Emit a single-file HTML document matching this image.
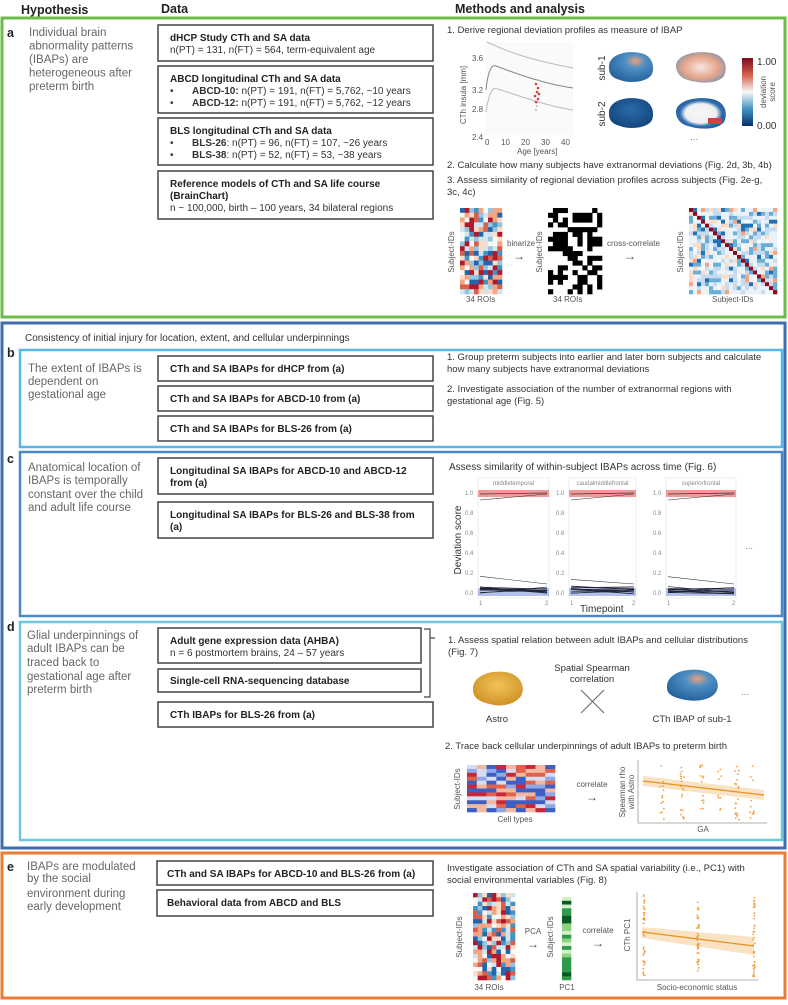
<!DOCTYPE html>
<html><head><meta charset="utf-8">
<style>
html,body{margin:0;padding:0;background:#fff;}
body{width:788px;height:1000px;overflow:hidden;font-family:"Liberation Sans",sans-serif;}
svg text{font-family:"Liberation Sans",sans-serif;}
.h{font-size:11.5px;fill:#666;}
.b{font-size:10px;font-weight:bold;fill:#222;}
.n{font-size:10px;fill:#333;}
.m{font-size:9.5px;fill:#333;}
.s{font-size:8px;fill:#555;}
.ar{font-size:12px;fill:#444;}
.t{font-size:6px;fill:#888;}
.lab{font-size:12.5px;font-weight:bold;fill:#222;}
.box{fill:#fff;stroke:#444;stroke-width:1.5;}
</style></head><body>
<svg id="s" width="788" height="1000" xmlns="http://www.w3.org/2000/svg">
<defs>
<linearGradient id="cb" x1="0" y1="0" x2="0" y2="1">
<stop offset="0" stop-color="#7a0a1f"/><stop offset="0.25" stop-color="#d6604d"/><stop offset="0.5" stop-color="#f7f7f7"/><stop offset="0.75" stop-color="#4393c3"/><stop offset="1" stop-color="#08306b"/></linearGradient>
<radialGradient id="bl1" cx="0.6" cy="0.3" r="0.8"><stop offset="0" stop-color="#e9a07f"/><stop offset="0.3" stop-color="#4d8fc4"/><stop offset="1" stop-color="#1d5a96"/></radialGradient>
<radialGradient id="bl2" cx="0.5" cy="0.5" r="0.7"><stop offset="0" stop-color="#f3e7e2"/><stop offset="0.5" stop-color="#e6a58a"/><stop offset="1" stop-color="#4a8cc4"/></radialGradient>
<radialGradient id="bl3" cx="0.5" cy="0.4" r="0.8"><stop offset="0" stop-color="#2a6aa8"/><stop offset="1" stop-color="#0d3a6e"/></radialGradient>
<radialGradient id="bl4" cx="0.5" cy="0.5" r="0.7"><stop offset="0" stop-color="#f6f6f6"/><stop offset="0.45" stop-color="#f0f0f0"/><stop offset="0.6" stop-color="#2f6fb0"/><stop offset="1" stop-color="#123f78"/></radialGradient>
<radialGradient id="astro" cx="0.5" cy="0.4" r="0.7"><stop offset="0" stop-color="#f2c35a"/><stop offset="1" stop-color="#c98a1d"/></radialGradient>
</defs>

<text x="21" y="14" class="lab">Hypothesis</text>
<text x="161" y="13" class="lab">Data</text>
<text x="455" y="13" class="lab">Methods and analysis</text>

<rect x="2" y="18" width="783" height="299" fill="none" stroke="#6cbd4a" stroke-width="3"/>
<text x="7" y="37" class="lab" font-size="12">a</text>
<text class="h" x="29" y="36">Individual brain</text>
<text class="h" x="29" y="49.5">abnormality patterns</text>
<text class="h" x="29" y="63">(IBAPs) are</text>
<text class="h" x="29" y="76.5">heterogeneous after</text>
<text class="h" x="29" y="90">preterm birth</text>

<rect class="box" x="158" y="25" width="275" height="36"/>
<text class="b" x="170" y="41">dHCP Study CTh and SA data</text>
<text class="n" x="170" y="53">n(PT) = 131, n(FT) = 564, term-equivalent age</text>
<rect class="box" x="158" y="66" width="275" height="47"/>
<text class="b" x="170" y="82">ABCD longitudinal CTh and SA data</text>
<text class="n" x="170" y="94">•</text><text class="n" x="192" y="94"><tspan font-weight="bold">ABCD-10:</tspan> n(PT) = 191, n(FT) = 5,762, ~10 years</text>
<text class="n" x="170" y="106">•</text><text class="n" x="192" y="106"><tspan font-weight="bold">ABCD-12:</tspan> n(PT) = 191, n(FT) = 5,762, ~12 years</text>
<rect class="box" x="158" y="118" width="275" height="47"/>
<text class="b" x="170" y="134">BLS longitudinal CTh and SA data</text>
<text class="n" x="170" y="146">•</text><text class="n" x="192" y="146"><tspan font-weight="bold">BLS-26</tspan>: n(PT) = 96, n(FT) = 107, ~26 years</text>
<text class="n" x="170" y="158">•</text><text class="n" x="192" y="158"><tspan font-weight="bold">BLS-38</tspan>: n(PT) = 52, n(FT) = 53, ~38 years</text>
<rect class="box" x="158" y="171" width="275" height="48"/>
<text class="b" x="170" y="187">Reference models of CTh and SA life course</text>
<text class="b" x="170" y="199">(BrainChart)</text>
<text class="n" x="170" y="211">n ~ 100,000, birth – 100 years, 34 bilateral regions</text>

<text class="m" x="447" y="33">1. Derive regional deviation profiles as measure of IBAP</text>
<rect x="485" y="42" width="88" height="93" fill="#fafafa"/>
<path d="M487 42 C500 48 520 58 573 68" fill="none" stroke="#bbb" stroke-width="1"/>
<path d="M486 90 C488 70 492 64 496 66 C520 75 545 84 573 88" fill="none" stroke="#888" stroke-width="1"/>
<path d="M486 112 C489 92 493 86 498 89 C525 98 548 106 573 110" fill="none" stroke="#bbb" stroke-width="1"/>
<g fill="#d43c3c"><circle cx="536" cy="84" r="1.3"/><circle cx="538" cy="88" r="1.3"/><circle cx="537" cy="92" r="1.3"/><circle cx="535" cy="96" r="1.3"/><circle cx="538" cy="99" r="1.3"/><circle cx="536" cy="102" r="1.3"/><circle cx="539" cy="94" r="1.3"/></g>
<g fill="#bbb"><circle cx="537" cy="106" r="1"/><circle cx="536" cy="110" r="1"/><circle cx="538" cy="80" r="1"/></g>
<g class="s" font-size="7.5"><text x="472" y="61">3.6</text><text x="472" y="93">3.2</text><text x="472" y="112">2.8</text><text x="472" y="140">2.4</text>
<text x="485" y="145">0</text><text x="501" y="145">10</text><text x="521" y="145">20</text><text x="541" y="145">30</text><text x="561" y="145">40</text>
<text x="517" y="154">Age [years]</text></g>
<text class="s" font-size="7.5" transform="translate(466,95) rotate(-90)" text-anchor="middle">CTh insula [mm]</text>
<text class="n" font-size="10" transform="translate(605,68) rotate(-90)" text-anchor="middle">sub-1</text>
<text class="n" font-size="10" transform="translate(605,114) rotate(-90)" text-anchor="middle">sub-2</text>
<path d="M609 68 C608 55 625 50 640 53 C652 55 655 66 652 74 C648 82 630 84 620 80 C612 78 609 74 609 68Z" fill="url(#bl1)"/>
<path d="M676 66 C676 55 695 50 712 53 C726 56 728 68 724 76 C718 84 700 84 688 80 C680 78 676 72 676 66Z" fill="url(#bl2)"/>
<path d="M609 114 C608 101 625 96 640 99 C652 101 655 112 652 120 C648 128 630 130 620 126 C612 124 609 120 609 114Z" fill="url(#bl3)"/>
<path d="M676 112 C676 101 695 96 712 99 C726 102 728 114 724 122 C718 130 700 130 688 126 C680 124 676 118 676 112Z" fill="url(#bl4)"/>
<rect x="708" y="118" width="14" height="6" fill="#d6403c"/>
<text class="s" x="690" y="142">···</text>
<rect x="742" y="58" width="11" height="68" fill="url(#cb)"/>
<text class="n" font-size="10" x="757" y="65">1.00</text>
<text class="n" font-size="10" x="757" y="129">0.00</text>
<text class="s" font-size="8.5" transform="translate(766,92) rotate(-90)" text-anchor="middle">deviation</text>
<text class="s" font-size="8.5" transform="translate(775,92) rotate(-90)" text-anchor="middle">score</text>

<text class="m" x="447" y="168">2. Calculate how many subjects have extranormal deviations (Fig. 2d, 3b, 4b)</text>
<text class="m" x="447" y="183">3. Assess similarity of regional deviation profiles across subjects (Fig. 2e-g,</text>
<text class="m" x="447" y="195">3c, 4c)</text>
<g id="hA"></g><g id="hB"></g><g id="hC"></g>
<text class="s" transform="translate(454,252) rotate(-90)" text-anchor="middle">Subject-IDs</text>
<text class="s" x="466" y="302">34 ROIs</text>
<text class="s" x="507" y="246">binarize</text><text class="ar" x="513" y="260">→</text>
<text class="s" transform="translate(542,252) rotate(-90)" text-anchor="middle">Subject-IDs</text>
<text class="s" x="553" y="302">34 ROIs</text>
<text class="s" x="607" y="246">cross-correlate</text><text class="ar" x="624" y="260">→</text>
<text class="s" transform="translate(683,252) rotate(-90)" text-anchor="middle">Subject-IDs</text>
<text class="s" x="712" y="302">Subject-IDs</text>

<rect x="2" y="323" width="783" height="525" fill="none" stroke="#3d6fae" stroke-width="3"/>
<text class="n" font-size="10.5" x="25" y="341">Consistency of initial injury for location, extent, and cellular underpinnings</text>
<rect x="20" y="350" width="762" height="97" fill="none" stroke="#5ab6e6" stroke-width="2.5"/>
<text x="7" y="357" class="lab" font-size="12">b</text>
<text class="h" x="28" y="372">The extent of IBAPs is</text>
<text class="h" x="28" y="385">dependent on</text>
<text class="h" x="28" y="398">gestational age</text>
<rect class="box" x="158" y="356" width="275" height="25"/><text class="b" x="170" y="372">CTh and SA IBAPs for dHCP from (a)</text>
<rect class="box" x="158" y="386" width="275" height="25"/><text class="b" x="170" y="402">CTh and SA IBAPs for ABCD-10 from (a)</text>
<rect class="box" x="158" y="416" width="275" height="25"/><text class="b" x="170" y="432">CTh and SA IBAPs for BLS-26 from (a)</text>
<text class="m" x="447" y="360">1. Group preterm subjects into earlier and later born subjects and calculate</text>
<text class="m" x="447" y="372">how many subjects have extranormal deviations</text>
<text class="m" x="447" y="392">2. Investigate association of the number of extranormal regions with</text>
<text class="m" x="447" y="404">gestational age (Fig. 5)</text>
<rect x="20" y="452" width="762" height="164" fill="none" stroke="#4a88c8" stroke-width="2.5"/>
<text x="7" y="463" class="lab" font-size="12">c</text>
<text class="h" x="28" y="471">Anatomical location of</text>
<text class="h" x="28" y="484">IBAPs is temporally</text>
<text class="h" x="28" y="498">constant over the child</text>
<text class="h" x="28" y="511">and adult life course</text>
<rect class="box" x="158" y="458" width="275" height="36"/><text class="b" x="170" y="474">Longitudinal SA IBAPs for ABCD-10 and ABCD-12</text><text class="b" x="170" y="486">from (a)</text>
<rect class="box" x="158" y="502" width="275" height="36"/><text class="b" x="170" y="518">Longitudinal SA IBAPs for BLS-26 and BLS-38 from</text><text class="b" x="170" y="530">(a)</text>
<text class="n" x="449" y="470">Assess similarity of within-subject IBAPs across time (Fig. 6)</text>
<g id="cp"></g>
<text class="n" font-size="10" transform="translate(461,540) rotate(-90)" text-anchor="middle">Deviation score</text>
<text class="n" font-size="10" x="580" y="612">Timepoint</text>
<text class="s" x="745" y="551">···</text>
<rect x="20" y="622" width="762" height="218" fill="none" stroke="#6cc6dc" stroke-width="2.5"/>
<text x="7" y="631" class="lab" font-size="12">d</text>
<text class="h" x="27" y="639">Glial underpinnings of</text>
<text class="h" x="27" y="652">adult IBAPs can be</text>
<text class="h" x="27" y="666">traced back to</text>
<text class="h" x="27" y="680">gestational age after</text>
<text class="h" x="27" y="693">preterm birth</text>
<rect class="box" x="158" y="628" width="263" height="35"/><text class="b" x="170" y="644">Adult gene expression data (AHBA)</text><text class="n" x="170" y="656">n = 6 postmortem brains, 24 – 57 years</text>
<rect class="box" x="158" y="669" width="263" height="23"/><text class="b" x="170" y="684">Single-cell RNA-sequencing database</text>
<rect class="box" x="158" y="702" width="275" height="25"/><text class="b" x="170" y="718">CTh IBAPs for BLS-26 from (a)</text>
<path d="M424 629 H430 V697 H424 M430 638 H435" fill="none" stroke="#444" stroke-width="1.2"/>
<text class="m" x="448" y="643">1. Assess spatial relation between adult IBAPs and cellular distributions</text>
<text class="m" x="448" y="655">(Fig. 7)</text>
<text class="m" x="592" y="671" text-anchor="middle">Spatial Spearman</text>
<text class="m" x="592" y="682" text-anchor="middle">correlation</text>
<path d="M581 690 L604 713 M604 690 L581 713" stroke="#666" stroke-width="1"/>
<path d="M473 690 C472 677 488 670 505 672 C520 674 525 686 522 694 C518 704 500 708 490 704 C480 702 473 698 473 690Z" fill="url(#astro)"/>
<path d="M667 688 C666 675 682 668 700 670 C715 672 720 682 717 690 C713 700 697 702 686 700 C675 698 667 695 667 688Z" fill="url(#bl1)"/>
<text class="s" x="741" y="697">···</text>
<text class="m" x="497" y="722" text-anchor="middle">Astro</text>
<text class="m" x="692" y="722" text-anchor="middle">CTh IBAP of sub-1</text>
<text class="m" x="445" y="749">2. Trace back cellular underpinnings of adult IBAPs to preterm birth</text>
<g id="hD"></g>
<text class="s" transform="translate(460,789) rotate(-90)" text-anchor="middle">Subject-IDs</text>
<text class="s" font-size="8.5" x="515" y="822" text-anchor="middle">Cell types</text>
<text class="s" font-size="8.5" x="592" y="787" text-anchor="middle">correlate</text>
<text class="ar" x="592" y="801" text-anchor="middle">→</text>
<text class="s" transform="translate(625,792) rotate(-90)" text-anchor="middle">Spearman rho</text>
<text class="s" transform="translate(634,792) rotate(-90)" text-anchor="middle">with Astro</text>
<path d="M638 760 V823 H767" fill="none" stroke="#999" stroke-width="0.8"/>
<g id="sD"></g>
<text class="s" x="703" y="832" text-anchor="middle">GA</text>

<rect x="2" y="853" width="783" height="145" fill="none" stroke="#ea7d36" stroke-width="3"/>
<text x="7" y="871" class="lab" font-size="12">e</text>
<text class="h" x="27" y="870">IBAPs are modulated</text>
<text class="h" x="27" y="882">by the social</text>
<text class="h" x="27" y="897">environment during</text>
<text class="h" x="27" y="910">early development</text>
<rect class="box" x="157" y="861" width="276" height="24"/><text class="b" x="167" y="877">CTh and SA IBAPs for ABCD-10 and BLS-26 from (a)</text>
<rect class="box" x="157" y="890" width="276" height="26"/><text class="b" x="167" y="906">Behavioral data from ABCD and BLS</text>
<text class="m" x="447" y="871">Investigate association of CTh and SA spatial variability (i.e., PC1) with</text>
<text class="m" x="447" y="883">social environmental variables (Fig. 8)</text>
<g id="hE"></g><g id="gE"></g>
<text class="s" transform="translate(462,937) rotate(-90)" text-anchor="middle">Subject-IDs</text>
<text class="s" font-size="8.5" x="489" y="990" text-anchor="middle">34 ROIs</text>
<text class="s" font-size="9" x="533" y="934" text-anchor="middle">PCA</text>
<text class="ar" x="533" y="948" text-anchor="middle">→</text>
<text class="s" transform="translate(553,937) rotate(-90)" text-anchor="middle">Subject-IDs</text>
<text class="s" font-size="8.5" x="567" y="990" text-anchor="middle">PC1</text>
<text class="s" font-size="8.5" x="598" y="933" text-anchor="middle">correlate</text>
<text class="ar" x="598" y="947" text-anchor="middle">→</text>
<text class="s" font-size="8.5" transform="translate(630,935) rotate(-90)" text-anchor="middle">CTh PC1</text>
<path d="M637 892 V980 H758" fill="none" stroke="#999" stroke-width="0.8"/>
<g id="sE"></g>
<text class="s" font-size="8.5" x="697" y="990" text-anchor="middle">Socio-economic status</text>
</svg>
<script>
var seed=7;function r(){seed=(seed*16807)%2147483647;return (seed-1)/2147483646;}
var NS="http://www.w3.org/2000/svg";
function el(g,t,a){var e=document.createElementNS(NS,t);for(var k in a)e.setAttribute(k,a[k]);g.appendChild(e);return e;}
var rb=["#2166ac","#4393c3","#92c5de","#d1e5f0","#f7f7f7","#fddbc7","#f4a582","#d6604d","#b2182b"];
function heat(id,x,y,w,h,nc,nr,f){var g=document.getElementById(id),cw=w/nc,ch=h/nr;for(var i=0;i<nr;i++)for(var j=0;j<nc;j++){var c=f(i,j);if(c)el(g,"rect",{x:x+j*cw,y:y+i*ch,width:cw+0.3,height:ch+0.3,fill:c});}}
heat("hA",460,208,42,86,9,18,function(){return rb[Math.floor(r()*9)];});
heat("hB",548,208,54,86,11,18,function(){return r()<0.55?"#000":null;});
heat("hC",689,208,88,86,22,22,function(i,j){if(i==j)return "#8b0a1f";var v=r();return v<0.35?"#eaf2f8":v<0.6?"#c6dbef":v<0.75?"#6baed6":v<0.82?"#2171b5":v<0.9?"#fddbc7":v<0.95?"#f4a582":"#f7f7f7";});
heat("hD",467,765,88,47,9,12,function(i,j){var v=r();return v<0.25?"#3b5fc4":v<0.4?"#8fa8e8":v<0.55?"#d7dcf0":v<0.7?"#f3b9a0":v<0.85?"#e0624a":"#c6283a";});
heat("hE",473,893,42,87,9,20,function(){return rb[Math.floor(r()*9)];});
heat("gE",562,897,9,83,1,22,function(){var v=r();return v<0.3?"#0a5a25":v<0.5?"#2e9a4a":v<0.75?"#8fd17f":"#d3efc8";});
var cp=document.getElementById("cp");
var P=[[470,553,"middletemporal"],[561,640,"caudalmiddlefrontal"],[658,740,"superiorfrontal"]];
P.forEach(function(p){var x0=p[0]+8,x1=p[1]-4;
el(cp,"rect",{x:x0,y:478,width:x1-x0,height:120,fill:"#fff",stroke:"#eee"});
var t=el(cp,"text",{x:(x0+x1)/2,y:485,"text-anchor":"middle","class":"t"});t.textContent=p[2];
["1.0","0.8","0.6","0.4","0.2","0.0"].forEach(function(l,k){var tt=el(cp,"text",{x:p[0]-5,y:495+k*20,"class":"t"});tt.textContent=l;});
el(cp,"rect",{x:x0,y:490,width:x1-x0,height:7,fill:"#f08080",opacity:0.8});
el(cp,"rect",{x:x0,y:588,width:x1-x0,height:8,fill:"#9fb0e8",opacity:0.8});
for(var k=0;k<12;k++){var a=586+r()*8,b=586+r()*8;el(cp,"line",{x1:x0+2,y1:a,x2:x1-2,y2:b,stroke:"#223",'stroke-width':0.6});}
el(cp,"line",{x1:x0+2,y1:494,x2:x1-2,y2:493,stroke:"#333",'stroke-width':0.7});
el(cp,"line",{x1:x0+2,y1:500,x2:x1-2,y2:494,stroke:"#333",'stroke-width':0.6});
el(cp,"line",{x1:x0+2,y1:572+r()*8,x2:x1-2,y2:584,stroke:"#333",'stroke-width':0.6});
var t1=el(cp,"text",{x:x0+1,y:605,"class":"t"});t1.textContent="1";var t2=el(cp,"text",{x:x1-4,y:605,"class":"t"});t2.textContent="2";});
var sd=document.getElementById("sD");
el(sd,"path",{d:"M643 776 L764 790 L764 800 L643 786Z",fill:"#f6c88a",opacity:0.5});
for(var i=0;i<90;i++){var xs=[660,680,700,718,735,750][Math.floor(r()*6)]+r()*4;el(sd,"circle",{cx:xs,cy:765+r()*55,r:0.9,fill:"#f0a040"});}
el(sd,"line",{x1:643,y1:781,x2:764,y2:795,stroke:"#e8901e",'stroke-width':1.2});
var se=document.getElementById("sE");
el(se,"path",{d:"M642 927 L754 937 L754 955 L642 938Z",fill:"#f6c88a",opacity:0.5});
[643,697,753].forEach(function(cx){for(var i=0;i<40;i++)el(se,"circle",{cx:cx+r()*2,cy:895+r()*82,r:0.9,fill:"#f0a040"});});
el(se,"line",{x1:642,y1:932,x2:754,y2:946,stroke:"#e8901e",'stroke-width':1.2});
</script>
</body></html>
